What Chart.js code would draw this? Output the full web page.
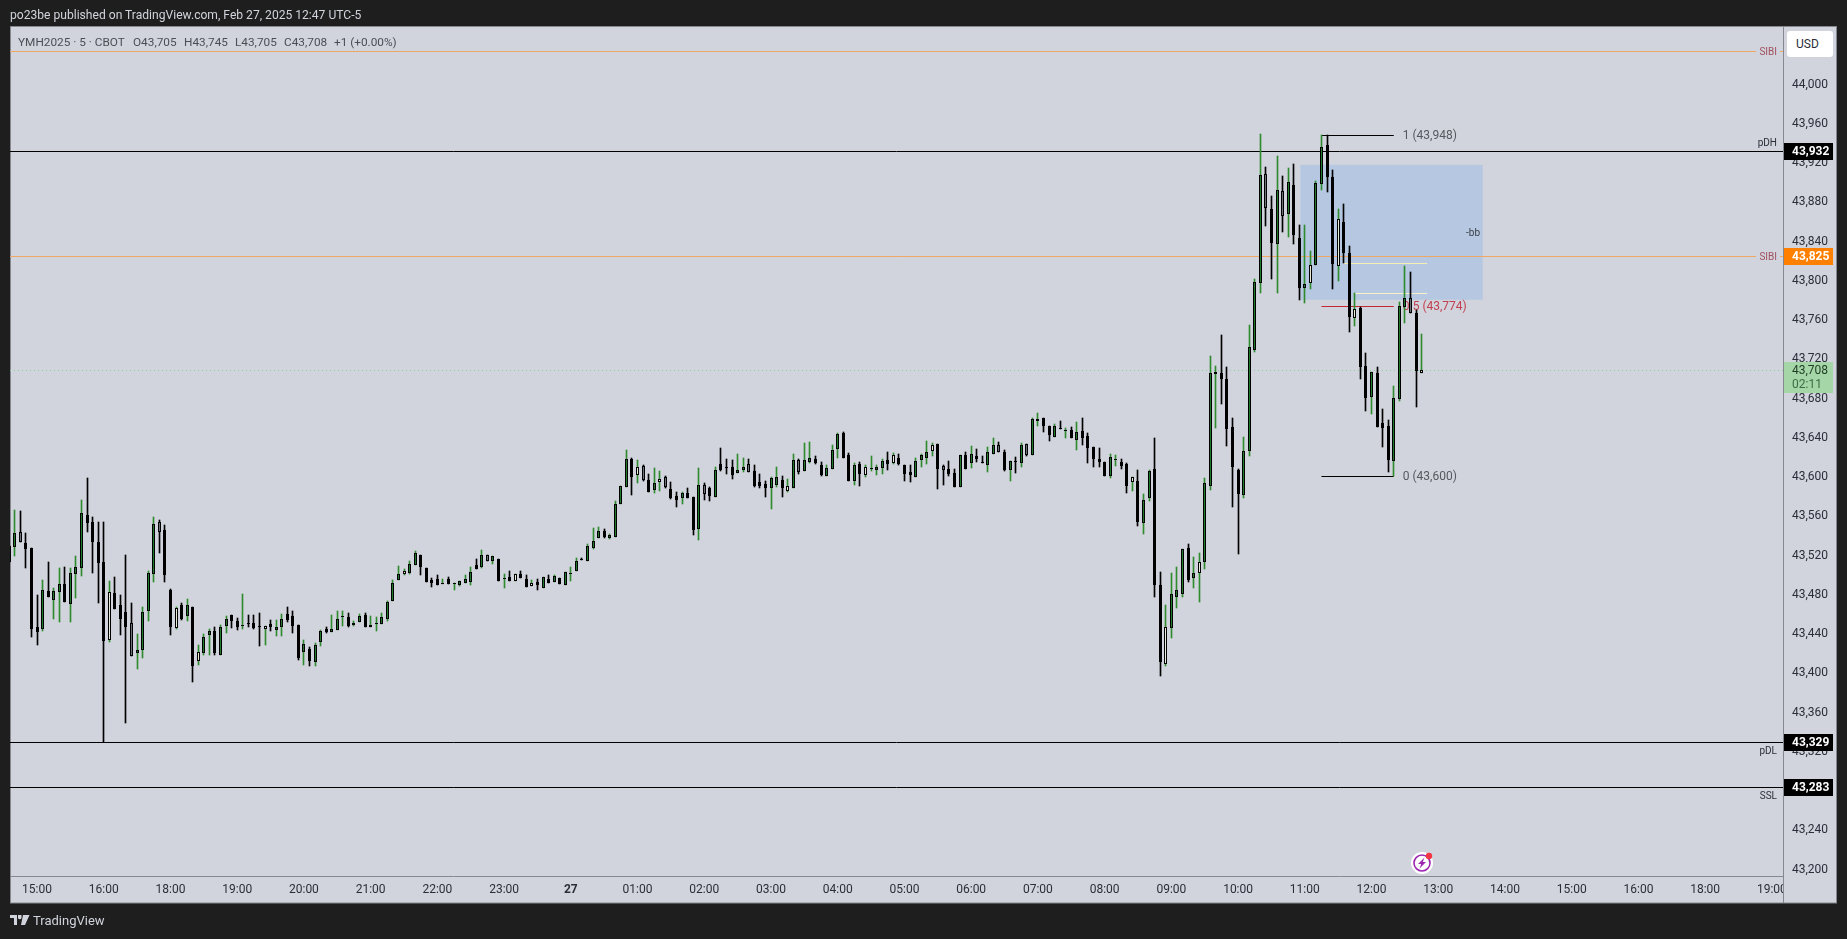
<!DOCTYPE html>
<html>
<head>
<meta charset="utf-8">
<title>YMH2025</title>
<script src="https://cdn.jsdelivr.net/npm/chart.js@4.5.1/dist/chart.umd.min.js"></script>
<style>
  html, body { margin: 0; padding: 0; background: #1e1e1e; overflow: hidden; }
  body { width: 1847px; height: 939px; position: relative; font-family: 'Roboto', sans-serif; }
  canvas { position: absolute; left: 0; top: 0; }
  .txt { position: absolute; white-space: pre; z-index: 2; }
  #publish { left: 10px; top: 7px; font-size: 12.1px; line-height: 16px; color: #d1d4dc; }
  .legend { top: 34px; font-size: 11.8px; line-height: 16px; color: #4a4e55; }
  #brand { left: 33px; top: 912px; font-size: 13px; line-height: 18px; color: #d1d4dc; }
  #logo { position: absolute; left: 10px; top: 915px; z-index: 2; }
  #usd { position: absolute; left: 1787px; top: 31px; width: 46px; height: 26px; line-height: 27px; box-sizing: border-box;
         background: #fff; border-radius: 3px; font-size: 12px; color: #2a2e39; padding-left: 9px; z-index: 2; }
  #bolt { position: absolute; left: 1411px; top: 852px; z-index: 2; }
</style>
</head>
<body>
<canvas id="chart" width="1847" height="939"></canvas>

<div class="txt" id="publish">po23be published on TradingView.com, Feb 27, 2025 12:47 UTC-5</div>
<div class="txt legend" style="left:18px">YMH2025 · 5 · CBOT</div>
<div class="txt legend" style="left:133px">O43,705</div>
<div class="txt legend" style="left:184px">H43,745</div>
<div class="txt legend" style="left:235px">L43,705</div>
<div class="txt legend" style="left:284px">C43,708</div>
<div class="txt legend" style="left:334px">+1 (+0.00%)</div>
<div id="usd">USD</div>
<svg id="logo" width="20" height="12" viewBox="0 0 20 12">
  <path fill="#d1d4dc" d="M0 0h7v10H4V3H0zM8 0h3.5v3.2A2 2 0 0 1 8 3.2zM13 0h6.5L15 10h-4z"/>
</svg>
<div class="txt" id="brand">TradingView</div>
<svg id="bolt" width="22" height="22" viewBox="0 0 22 22">
  <circle cx="11" cy="11" r="11" fill="#fff"/>
  <circle cx="11" cy="11" r="8" fill="none" stroke="#9c27b0" stroke-width="1.6"/>
  <path fill="#9c27b0" d="M13.5 5.5 7 12h3.2l-1.7 4.5L15 10h-3.2z"/>
  <circle cx="18" cy="4" r="3.2" fill="#f23645"/>
</svg>

<script>
// ── Bars (5 min, oldest first) ───────────────────────────────────────────
const FIRST_BAR = -5; // bar number of the first entry, 15:00 is bar 0

const opens = [
  43529,43528,43543,43532,43527,43446,43444,43483,43474,43482,
  43490,43470,43501,43507,43561,43554,43533,43513,43433,43481,
  43469,43462,43451,43420,43423,43463,43500,43553,43545,43484,
  43445,43469,43458,43467,43412,43420,43438,43442,43418,43447,
  43459,43453,43448,43451,43451,43447,43444,43450,43443,43446,
  43460,43458,43449,43421,43424,43411,43431,43444,43441,43443,
  43457,43457,43449,43452,43459,43446,43450,43450,43455,43473,
  43494,43501,43502,43510,43520,43507,43494,43495,43490,43495,
  43490,43489,43491,43492,43510,43508,43520,43514,43516,43495,
  43497,43493,43501,43495,43488,43492,43486,43495,43492,43496,
  43489,43500,43504,43516,43514,43527,43537,43544,43537,43538,
  43572,43589,43618,43601,43611,43596,43586,43594,43599,43587,
  43580,43578,43583,43579,43546,43591,43588,43579,43613,43610,
  43610,43603,43606,43613,43605,43594,43592,43588,43591,43596,
  43585,43588,43617,43605,43615,43618,43612,43600,43608,43628,
  43644,43622,43595,43613,43601,43608,43606,43609,43617,43614,
  43619,43612,43604,43599,43617,43619,43626,43633,43611,43608,
  43603,43589,43622,43614,43621,43615,43612,43623,43632,43625,
  43606,43616,43614,43633,43622,43656,43660,43651,43640,43649,
  43646,43647,43637,43646,43641,43630,43618,43615,43600,43617,
  43615,43613,43594,43595,43552,43578,43608,43489,43409,43445,
  43477,43480,43527,43496,43502,43513,43590,43704,43705,43699,
  43650,43607,43581,43626,43729,43797,43908,43872,43837,43891,
  43867,43897,43843,43792,43797,43815,43898,43938,43905,43814,
  43859,43828,43761,43772,43713,43681,43705,43654,43651,43616,
  43679,43773,43782,43767,43705,
];
const highs = [
  43529,43566,43565,43542,43527,43479,43494,43513,43486,43507,
  43508,43507,43519,43576,43598,43559,43553,43554,43493,43497,
  43479,43520,43471,43439,43467,43504,43559,43556,43550,43485,
  43467,43471,43475,43467,43428,43439,43444,43446,43449,43458,
  43459,43456,43480,43459,43459,43461,43448,43454,43454,43460,
  43467,43463,43449,43433,43426,43430,43443,43446,43459,43463,
  43463,43461,43453,43460,43461,43458,43457,43461,43473,43494,
  43509,43506,43514,43524,43520,43507,43496,43499,43495,43497,
  43491,43493,43499,43508,43516,43525,43520,43519,43516,43500,
  43504,43500,43504,43499,43494,43495,43497,43499,43499,43496,
  43503,43508,43517,43517,43531,43547,43548,43546,43541,43575,
  43590,43627,43619,43617,43612,43602,43609,43605,43600,43594,
  43584,43584,43588,43579,43609,43593,43589,43610,43629,43618,
  43617,43623,43619,43618,43612,43602,43595,43599,43610,43600,
  43597,43623,43618,43634,43635,43621,43615,43612,43632,43644,
  43645,43624,43614,43615,43612,43621,43612,43618,43625,43624,
  43623,43612,43612,43619,43623,43636,43634,43633,43612,43616,
  43608,43622,43625,43631,43628,43621,43630,43639,43635,43627,
  43616,43620,43634,43633,43660,43665,43660,43651,43653,43656,
  43649,43650,43655,43660,43644,43630,43629,43615,43623,43622,
  43618,43614,43599,43607,43582,43607,43639,43503,43469,43502,
  43508,43526,43531,43518,43522,43598,43723,43713,43744,43711,
  43660,43608,43640,43754,43801,43949,43915,43886,43927,43906,
  43914,43918,43856,43856,43830,43901,43948,43948,43912,43872,
  43878,43835,43787,43773,43726,43706,43711,43669,43657,43692,
  43778,43814,43808,43770,43745,
];
const lows = [
  43513,43519,43533,43507,43436,43428,43442,43477,43455,43452,
  43472,43452,43476,43498,43543,43502,43471,43329,43431,43465,
  43438,43349,43417,43404,43415,43453,43492,43522,43492,43438,
  43444,43454,43453,43390,43408,43418,43418,43418,43418,43440,
  43445,43443,43444,43446,43444,43427,43428,43442,43437,43437,
  43452,43440,43413,43408,43407,43407,43427,43440,43441,43443,
  43447,43446,43447,43452,43446,43446,43442,43450,43453,43473,
  43494,43499,43501,43510,43499,43492,43487,43489,43490,43490,
  43484,43488,43491,43489,43506,43507,43514,43511,43493,43486,
  43493,43493,43496,43487,43488,43484,43486,43491,43492,43490,
  43489,43493,43504,43515,43514,43526,43537,43537,43536,43538,
  43572,43589,43581,43593,43595,43584,43583,43585,43588,43577,
  43569,43572,43578,43540,43535,43576,43575,43579,43605,43602,
  43597,43603,43604,43604,43589,43588,43579,43567,43589,43579,
  43584,43588,43602,43605,43614,43613,43600,43600,43608,43619,
  43619,43595,43591,43590,43599,43605,43601,43602,43607,43613,
  43612,43595,43594,43599,43610,43613,43621,43587,43591,43600,
  43589,43589,43608,43609,43615,43614,43604,43623,43625,43605,
  43595,43603,43610,43621,43622,43651,43645,43636,43640,43648,
  43639,43639,43627,43632,43614,43610,43610,43600,43598,43611,
  43608,43583,43585,43549,43541,43575,43477,43397,43407,43435,
  43466,43477,43492,43486,43472,43506,43586,43649,43674,43631,
  43569,43521,43578,43621,43727,43787,43855,43801,43787,43849,
  43844,43837,43780,43777,43791,43815,43892,43890,43791,43799,
  43817,43747,43753,43699,43667,43664,43650,43630,43604,43600,
  43677,43756,43766,43671,43705,
];
const closes = [
  43513,43542,43533,43526,43444,43441,43484,43477,43483,43490,
  43472,43502,43508,43563,43552,43533,43512,43432,43482,43465,
  43455,43446,43417,43423,43462,43502,43551,43543,43499,43446,
  43466,43455,43469,43407,43421,43436,43442,43420,43446,43455,
  43453,43446,43449,43450,43445,43446,43447,43446,43446,43455,
  43454,43447,43415,43429,43412,43428,43442,43441,43444,43455,
  43458,43447,43451,43458,43446,43449,43451,43457,43472,43491,
  43500,43504,43511,43522,43508,43492,43491,43489,43491,43490,
  43491,43493,43495,43503,43506,43520,43514,43519,43493,43496,
  43493,43500,43496,43487,43491,43489,43497,43491,43498,43490,
  43503,43501,43514,43515,43529,43534,43544,43538,43540,43572,
  43590,43618,43599,43610,43596,43584,43593,43597,43589,43578,
  43576,43583,43578,43545,43591,43582,43580,43607,43607,43609,
  43601,43607,43610,43604,43590,43590,43588,43598,43599,43588,
  43590,43617,43604,43617,43619,43614,43601,43609,43627,43643,
  43619,43595,43612,43602,43610,43609,43610,43616,43613,43622,
  43613,43602,43601,43616,43622,43625,43632,43608,43606,43602,
  43589,43622,43608,43623,43618,43614,43625,43632,43625,43607,
  43616,43615,43632,43622,43658,43658,43651,43642,43651,43648,
  43647,43639,43645,43639,43629,43618,43615,43600,43620,43618,
  43611,43590,43599,43554,43576,43605,43489,43411,43446,43480,
  43484,43526,43494,43502,43513,43593,43705,43706,43699,43648,
  43610,43582,43626,43732,43798,43907,43874,43838,43892,43865,
  43900,43846,43792,43796,43815,43899,43936,43905,43816,43862,
  43828,43762,43771,43711,43680,43706,43650,43649,43617,43680,
  43774,43782,43766,43707,43708,
];

// entries in the lists above whose body is painted pale or grey on the chart
const paleBars = [18,30,34,46,62,71,91,94,113,117,140,154,159,166,202,208,214,217,234,239,242,254];
const greyBars = [0,2,22,27,86,114,118,125,133,142,168,178,183,226,229,252];

// ── Axes ─────────────────────────────────────────────────────────────────
// one label per 12 bars, starting at bar 0
const hourLabels = ['15:00','16:00','18:00','19:00','20:00','21:00','22:00','23:00','27',
  '01:00','02:00','03:00','04:00','05:00','06:00','07:00','08:00','09:00','10:00','11:00','12:00',
  '13:00','14:00','15:00','16:00','18:00','19:00'];
const PRICE_MAX = 44058;
const PRICE_MIN = 43192.7;
const PRICE_STEP = 40;
const BAR_MIN = -4.86;
const BAR_MAX = 314;

// ── Levels ───────────────────────────────────────────────────────────────
const sibiLevels = [44034, 43825];
const pdhLevel = 43932;
const pdlLevel = 43329;
const sslLevel = 43283;
const lastPrice = 43708;
const fibHigh = 43948;
const fibMid = 43774;
const fibLow = 43600;
const fibBars = [231, 244];
const fvgTop = 43817.5;
const fvgTopBars = [235, 250];
const fvgBottom = 43786.5;
const fvgBottomBars = [237, 250];
const boxBars = [227.2, 260];
const boxPrices = [43917.5, 43780];

// ── Colours ──────────────────────────────────────────────────────────────
const PANE = '#d1d4dc';
const FRAME = '#85888e';
const GREEN_WICK = '#2e8b2e';
const GREEN_BODY = '#1f7a2a';
const PALE_BODY = '#e4ecd8';
const GREY_BODY = '#6c7078';
const BOX_FILL = '#b6c7e1';
const ORANGE_LINE = '#efa765';
const FONT = "'Roboto', sans-serif";

const isUp = (i) => closes[i] >= opens[i];
const bodyFill = (i) => {
  if (paleBars.includes(i)) return PALE_BODY;
  if (greyBars.includes(i)) return GREY_BODY;
  return isUp(i) ? GREEN_BODY : '#000';
};
const barX = (i) => FIRST_BAR + i;
const hLine = (price, color, dash = [], from = BAR_MIN, to = BAR_MAX) => ({
  type: 'line',
  data: [{ x: from, y: price }, { x: to, y: price }],
  borderColor: color,
  borderWidth: 1,
  borderDash: dash,
  pointRadius: 0,
  order: 5,
});

// ── Plugins ──────────────────────────────────────────────────────────────
// TradingView keeps candles and levels on whole pixels, a 5.56px bar step would blur
const snapBars = {
  id: 'snapBars',
  afterDatasetsUpdate(chart) {
    chart.data.datasets.forEach((ds, idx) => {
      const els = chart.getDatasetMeta(idx).data;
      if (ds.type === 'line') {
        els.forEach((el) => { el.y = Math.round(el.y) + 0.5; });
        return;
      }
      els.forEach((el) => {
        el.x = Math.floor(el.x) + 0.5;
        el.y = Math.round(el.y);
        el.base = Math.round(el.base);
        if (el.base - el.y < 1) el.base = el.y + 1;
      });
    });
  },
};

const fibText = (ctx, x, s, label, price, color) => {
  ctx.fillStyle = color;
  ctx.font = `12px ${FONT}`;
  ctx.textAlign = 'left';
  ctx.textBaseline = 'middle';
  ctx.fillText(label, x, s.getPixelForValue(price) + 1);
};

const pane = {
  id: 'pane',
  beforeDraw(chart) {
    const { ctx, chartArea: a, scales } = chart;
    ctx.save();
    ctx.fillStyle = PANE;
    ctx.fillRect(a.left, a.top, 1837 - a.left, 903 - a.top);
    ctx.strokeStyle = FRAME;
    ctx.lineWidth = 1;
    ctx.strokeRect(a.left + 0.5, a.top - 0.5, 1836 - a.left, 903 - a.top + 0.5);
    ctx.restore();
    // Roboto sits a little high against the middle baseline
    scales.y.getLabelItems().forEach((it) => { it.options.translation[1] += 0.7; });
    scales.x.getLabelItems().forEach((it) => { it.options.translation[1] += 0.5; });
  },
  beforeDatasetsDraw(chart) {
    const { ctx, scales: { x, y } } = chart;
    ctx.save();
    ctx.fillStyle = BOX_FILL;
    ctx.fillRect(x.getPixelForValue(boxBars[0]), y.getPixelForValue(boxPrices[0]),
      x.getPixelForValue(boxBars[1]) - x.getPixelForValue(boxBars[0]),
      y.getPixelForValue(boxPrices[1]) - y.getPixelForValue(boxPrices[0]));
    const lx = x.getPixelForValue(fibBars[1]) + 9;
    fibText(ctx, lx, y, '1 (43,948)', fibHigh, '#55585f');
    fibText(ctx, lx, y, '0.5 (43,774)', fibMid, '#c2404f');
    fibText(ctx, lx, y, '0 (43,600)', fibLow, '#55585f');
    ctx.font = `10px ${FONT}`;
    ctx.fillStyle = '#3a3e45';
    ctx.textAlign = 'right';
    ctx.fillText('-bb', 1480, 233);
    ctx.restore();
  },
  afterDraw(chart) {
    const { ctx, chartArea: a, scales: { y } } = chart;
    ctx.save();
    // 19:00 is cut off by the price scale, and that scale runs to the pane bottom
    ctx.fillStyle = PANE;
    ctx.fillRect(a.right, a.bottom + 1, 1836 - a.right, 902 - a.bottom - 1);
    ctx.fillStyle = FRAME;
    ctx.fillRect(a.right, a.bottom, 1, 903 - a.bottom);

    // notes next to the level lines
    const note = (text, py, color) => {
      ctx.font = `10px ${FONT}`;
      ctx.textAlign = 'right';
      ctx.textBaseline = 'middle';
      ctx.fillStyle = color;
      ctx.fillText(text, 1777, py);
    };
    sibiLevels.forEach((p) => {
      const py = Math.round(y.getPixelForValue(p));
      ctx.fillStyle = PANE;
      ctx.fillRect(1756, py - 2, 24, 5);
      note('SIBI', py + 1, '#a0505f');
    });
    note('pDH', y.getPixelForValue(pdhLevel) - 7, '#2a2e39');
    note('pDL', y.getPixelForValue(pdlLevel) + 9, '#2a2e39');
    note('SSL', y.getPixelForValue(sslLevel) + 9, '#2a2e39');

    // price tags on the scale
    const tag = (price, bg, fg, bold) => {
      const py = Math.round(y.getPixelForValue(price));
      ctx.fillStyle = bg;
      ctx.fillRect(a.right + 1, py - 8, 49, 17);
      ctx.fillStyle = fg;
      ctx.font = `${bold ? 'bold ' : ''}12px ${FONT}`;
      ctx.textAlign = 'left';
      ctx.textBaseline = 'middle';
      ctx.fillText(price.toLocaleString('en-US'), 1792, py + 1);
    };
    tag(pdhLevel, '#000', '#fff', true);
    tag(sibiLevels[1], '#ff7f00', '#fff', true);
    tag(pdlLevel, '#000', '#fff', true);
    tag(sslLevel, '#000', '#fff', true);

    const ly = Math.round(y.getPixelForValue(lastPrice));
    ctx.fillStyle = '#a5d6a7';
    ctx.fillRect(a.right + 1, ly - 8, 49, 31);
    ctx.fillStyle = '#1f3d24';
    ctx.font = `12px ${FONT}`;
    ctx.textAlign = 'left';
    ctx.textBaseline = 'middle';
    ctx.fillText(lastPrice.toLocaleString('en-US'), 1792, ly + 1);
    ctx.fillStyle = '#3d6b45';
    ctx.fillText('02:11', 1792, ly + 15);
    ctx.restore();
  },
};

// ── Chart ────────────────────────────────────────────────────────────────
new Chart(document.getElementById('chart'), {
  type: 'bar',
  data: {
    datasets: [
      {
        // wicks
        data: highs.map((h, i) => ({ x: barX(i), y: [lows[i], h] })),
        backgroundColor: highs.map((_, i) => (isUp(i) ? GREEN_WICK : '#000')),
        barThickness: 1,
        order: 2,
      },
      {
        // bodies
        data: opens.map((o, i) => ({ x: barX(i), y: [o, closes[i]] })),
        backgroundColor: opens.map((_, i) => bodyFill(i)),
        borderColor: '#000',
        borderWidth: 1,
        borderSkipped: false,
        inflateAmount: 0,
        barThickness: 3,
        minBarLength: 1,
        order: 1,
      },
      hLine(sibiLevels[0], ORANGE_LINE),
      hLine(sibiLevels[1], ORANGE_LINE),
      hLine(pdhLevel, '#000'),
      hLine(pdlLevel, '#000'),
      hLine(sslLevel, '#000'),
      hLine(lastPrice, '#8fd098', [1, 3]),
      hLine(fibHigh, '#000', [], fibBars[0], fibBars[1]),
      hLine(fibMid, '#c2282f', [], fibBars[0], fibBars[1]),
      hLine(fibLow, '#000', [], fibBars[0], fibBars[1]),
      hLine(fvgTop, '#f5efb5', [], fvgTopBars[0], fvgTopBars[1]),
      hLine(fvgBottom, '#f5f1c8', [], fvgBottomBars[0], fvgBottomBars[1]),
    ],
  },
  options: {
    responsive: false,
    animation: false,
    parsing: { xAxisKey: 'x', yAxisKey: 'y' },
    layout: { padding: { left: 10, top: 27, right: 10, bottom: 36 } },
    datasets: { bar: { grouped: false } },
    plugins: { legend: { display: false }, tooltip: { enabled: false } },
    scales: {
      x: {
        type: 'linear',
        offset: false,
        min: BAR_MIN,
        max: BAR_MAX,
        grid: { display: false, drawTicks: false },
        border: { display: true, color: FRAME },
        afterFit(s) { s.height = 27; },
        ticks: {
          stepSize: 12,
          includeBounds: false,
          autoSkip: false,
          maxRotation: 0,
          padding: 6,
          color: '#2a2e39',
          font: (c) => ({ family: FONT, size: 12, weight: hourLabels[c.tick && c.tick.value / 12] === '27' ? 'bold' : 'normal' }),
          callback: (v) => hourLabels[v / 12],
        },
      },
      y: {
        position: 'right',
        min: PRICE_MIN,
        max: PRICE_MAX,
        grid: { display: false, drawTicks: false },
        border: { display: true, color: FRAME },
        afterFit(s) { s.width = 54; },
        ticks: {
          stepSize: PRICE_STEP,
          includeBounds: false,
          autoSkip: false,
          padding: 9,
          color: '#2a2e39',
          font: { family: FONT, size: 12 },
          callback: (v) => v.toLocaleString('en-US'),
        },
      },
    },
  },
  plugins: [pane, snapBars],
});
</script>
</body>
</html>
